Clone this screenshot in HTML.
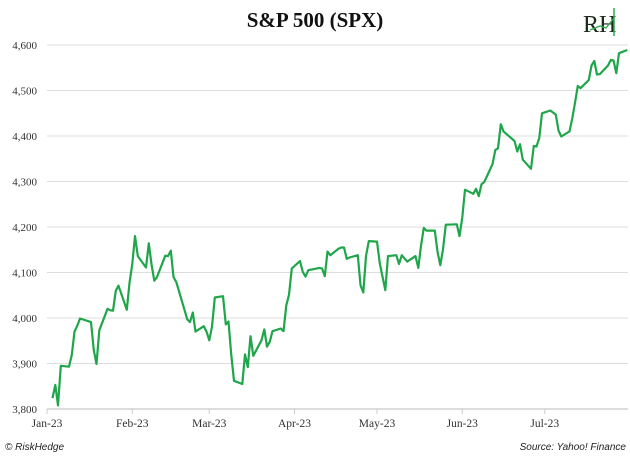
<!DOCTYPE html>
<html><head><meta charset="utf-8"><style>
html,body{margin:0;padding:0;background:#fff;width:630px;height:456px;overflow:hidden}
svg{display:block}
</style></head><body>
<svg id="chart" width="630" height="456">
<text x="315" y="27" text-anchor="middle" font-family="Liberation Serif, serif" font-size="21" font-weight="bold" fill="#111">S&amp;P 500 (SPX)</text>
<g>
<text x="583" y="32" font-family="Liberation Serif, serif" font-size="24" fill="#1a2a1a">RH</text>
<line x1="614" y1="8" x2="614" y2="36" stroke="#2eaa4f" stroke-width="1.5"/>
<polyline points="590,30 600,26 606,28 614,18" fill="none" stroke="#2eaa4f" stroke-width="1.3"/>
</g>
<g id="grid"></g>
<g id="yticks"></g>
<g id="xticks"></g>
<path id="line" fill="none" stroke="#1fa64a" stroke-width="2.2" stroke-linejoin="round"/>
<text x="5" y="450" font-family="Liberation Sans, sans-serif" font-size="10" font-style="italic" fill="#222">© RiskHedge</text>
<text x="626" y="450" text-anchor="end" font-family="Liberation Sans, sans-serif" font-size="10" font-style="italic" fill="#222">Source: Yahoo! Finance</text>
</svg>
<script>
const yTicks=[3800,3900,4000,4100,4200,4300,4400,4500,4600];
const yTickLabels=["3,800","3,900","4,000","4,100","4,200","4,300","4,400","4,500","4,600"];
const monthDays=[0,31,59,90,120,151,181];
const monthLabels=["Jan-23","Feb-23","Mar-23","Apr-23","May-23","Jun-23","Jul-23"];
const dates=["01-03","01-04","01-05","01-06","01-09","01-10","01-11","01-12","01-13","01-17","01-18","01-19","01-20","01-23","01-24","01-25","01-26","01-27","01-30","01-31",
"02-01","02-02","02-03","02-06","02-07","02-08","02-09","02-10","02-13","02-14","02-15","02-16","02-17","02-21","02-22","02-23","02-24","02-27","02-28",
"03-01","03-02","03-03","03-06","03-07","03-08","03-09","03-10","03-13","03-14","03-15","03-16","03-17","03-20","03-21","03-22","03-23","03-24","03-27","03-28","03-29","03-30","03-31",
"04-03","04-04","04-05","04-06","04-10","04-11","04-12","04-13","04-14","04-17","04-18","04-19","04-20","04-21","04-24","04-25","04-26","04-27","04-28",
"05-01","05-02","05-03","05-04","05-05","05-08","05-09","05-10","05-11","05-12","05-15","05-16","05-17","05-18","05-19","05-22","05-23","05-24","05-25","05-26","05-30","05-31",
"06-01","06-02","06-05","06-06","06-07","06-08","06-09","06-12","06-13","06-14","06-15","06-16","06-20","06-21","06-22","06-23","06-26","06-27","06-28","06-29","06-30",
"07-03","07-05","07-06","07-07","07-10","07-11","07-12","07-13","07-14","07-17","07-18","07-19","07-20","07-21","07-24","07-25","07-26","07-27","07-28","07-31"];
const values=[3824,3853,3808,3895,3893,3919,3970,3983,3999,3991,3929,3899,3973,4020,4017,4016,4060,4071,4018,4077,
4119,4180,4136,4111,4164,4118,4082,4090,4137,4136,4148,4090,4079,3997,3991,4012,3970,3982,3970,
3951,3981,4045,4048,3986,3992,3918,3862,3855,3920,3892,3960,3917,3951,3975,3937,3948,3971,3977,3971,4028,4051,4109,
4125,4101,4091,4105,4110,4109,4092,4146,4138,4152,4155,4155,4130,4133,4138,4072,4056,4136,4169,
4168,4120,4091,4061,4136,4138,4119,4138,4131,4124,4136,4110,4159,4198,4192,4192,4146,4116,4151,4205,4206,4180,
4221,4282,4273,4284,4268,4294,4299,4338,4369,4373,4426,4410,4389,4366,4382,4348,4328,4378,4377,4396,4450,
4456,4447,4412,4399,4410,4439,4473,4510,4505,4523,4555,4565,4535,4536,4555,4567,4566,4538,4582,4589];
const cum=[0,31,59,90,120,151,181];
function dayOf(d){const m=+d.slice(0,2),dd=+d.slice(3);return cum[m-1]+dd-1;}
function xs(day){return 47+day*2.75;}
function ys(v){return 409-(v-3800)*0.455;}
const NS="http://www.w3.org/2000/svg";
const grid=document.getElementById('grid'),yt=document.getElementById('yticks'),xt=document.getElementById('xticks');
yTicks.forEach((t,i)=>{
  const l=document.createElementNS(NS,'line');
  
  
  l.setAttribute('x1',47);l.setAttribute('x2',628);l.setAttribute('y1',ys(t));l.setAttribute('y2',ys(t));
  l.setAttribute('stroke',i===0?'#bbb':'#ddd');l.setAttribute('stroke-width','1');
  grid.appendChild(l);
  const tx=document.createElementNS(NS,'text');
  
  
  tx.setAttribute('x',37);tx.setAttribute('y',ys(t)+4);tx.setAttribute('text-anchor','end');
  tx.setAttribute('font-family','Liberation Serif, serif');tx.setAttribute('font-size','11');tx.setAttribute('fill','#333');
  tx.textContent=yTickLabels[i];yt.appendChild(tx);
});
monthDays.forEach((d,i)=>{
  const tk=document.createElementNS(NS,'line');
  
  
  tk.setAttribute('x1',xs(d));tk.setAttribute('x2',xs(d));tk.setAttribute('y1',409);tk.setAttribute('y2',414);
  tk.setAttribute('stroke','#ccc');xt.appendChild(tk);
  const tx=document.createElementNS(NS,'text');
  
  
  tx.setAttribute('x',xs(d));tx.setAttribute('y',427);tx.setAttribute('text-anchor','middle');
  tx.setAttribute('font-family','Liberation Serif, serif');tx.setAttribute('font-size','11.5');tx.setAttribute('fill','#333');
  tx.textContent=monthLabels[i];xt.appendChild(tx);
});
document.getElementById('line').setAttribute('d',values.map((v,i)=>(i?'L':'M')+xs(dayOf(dates[i])).toFixed(1)+','+ys(v).toFixed(1)).join(''));
</script>
</body></html>
